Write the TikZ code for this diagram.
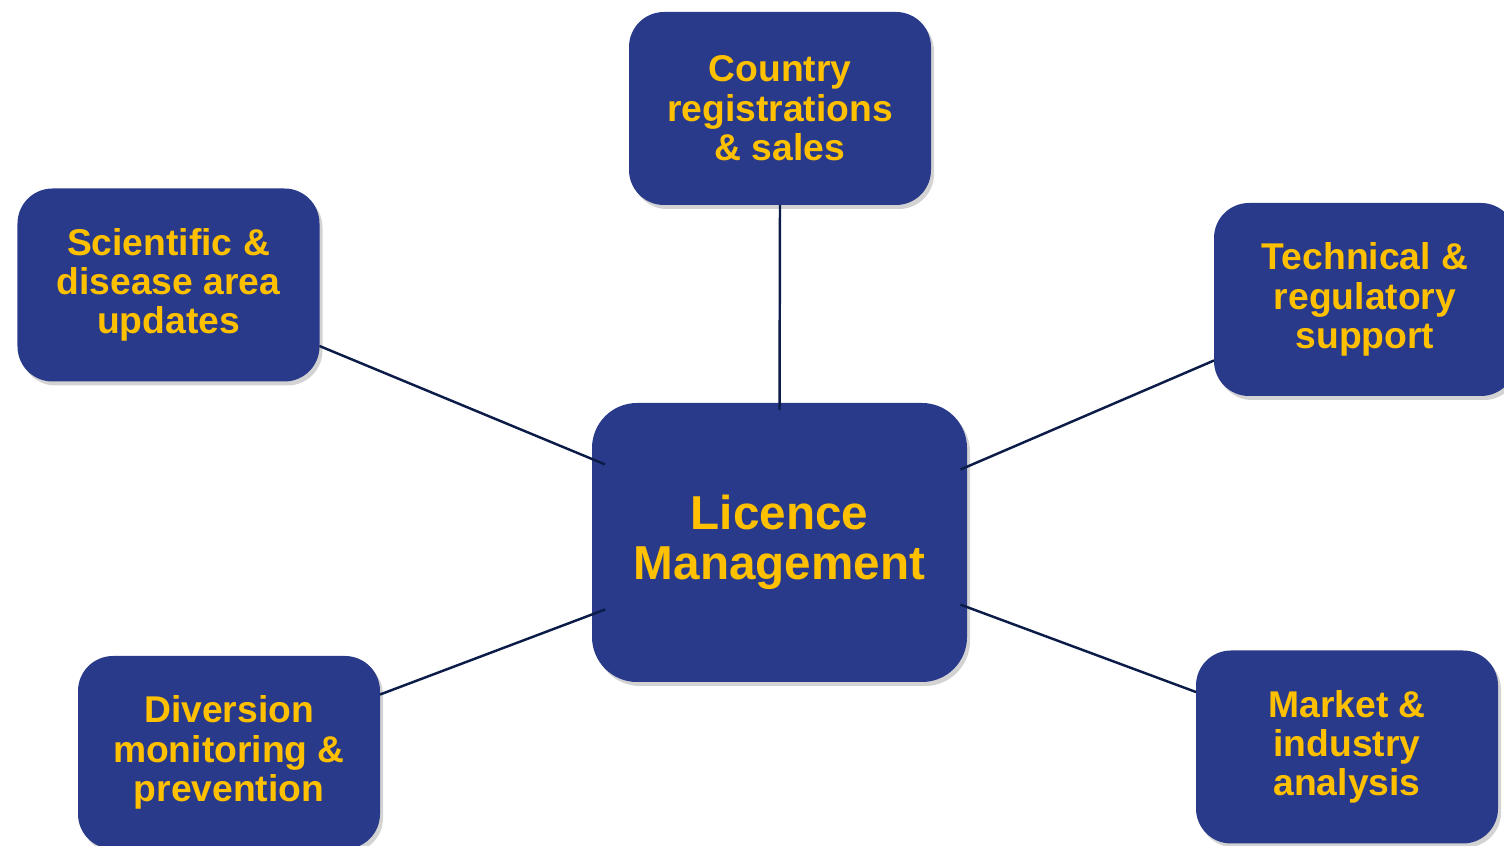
\documentclass[tikz,border=0pt]{standalone}
\usepackage{fontspec}
\setmainfont{Liberation Sans}
\usetikzlibrary{shadows}
\definecolor{boxblue}{RGB}{40,58,137}
\definecolor{gold}{RGB}{255,192,0}
\definecolor{linenavy}{RGB}{12,28,72}
\begin{document}
\begin{tikzpicture}[inner sep=0pt,outer sep=0pt,
  box/.style={rectangle,rounded corners=0.35cm,fill=boxblue,minimum width=3.02cm,minimum height=1.93cm,
    align=center,text=gold,font=\fontsize{10.6}{11.2}\selectfont\bfseries,
    drop shadow={opacity=0.35,shadow xshift=0.03cm,shadow yshift=-0.04cm}},
  hub/.style={box,rounded corners=0.45cm,minimum width=3.75cm,minimum height=2.79cm,
    font=\fontsize{13.55}{14.3}\selectfont\bfseries},
  link/.style={draw=linenavy,line width=0.7pt}]
\useasboundingbox (0,0) rectangle (15.04,8.46);
\node[hub] (lic) at (7.795,3.035) {Licence\\Management};
\node[box] (country) at (7.80,7.375) {Country\\registrations\\\& sales};
\node[box] (sci) at (1.685,5.61) {Scientific \&\\disease area\\updates};
\node[box] (tech) at (13.65,5.465) {Technical \&\\regulatory\\support};
\node[box] (div) at (2.29,0.935) {Diversion\\monitoring \&\\prevention};
\node[box] (market) at (13.47,0.99) {Market \&\\industry\\analysis};
%\node[right] at (9.3,2) {};
\draw[link] (country.south) -- ([yshift=-2pt]lic.north);
\draw[link,shorten >=-4pt] (sci.-22.7) -- (lic.156.9);
\draw[link,shorten >=-2pt] (tech.202.5) -- (lic.22.7);
\draw[link,shorten >=-4pt] (div.21.2) -- (lic.201.2);
\draw[link,shorten >=-2pt] (market.160) -- (lic.-19.9);
\end{tikzpicture}
\end{document}
